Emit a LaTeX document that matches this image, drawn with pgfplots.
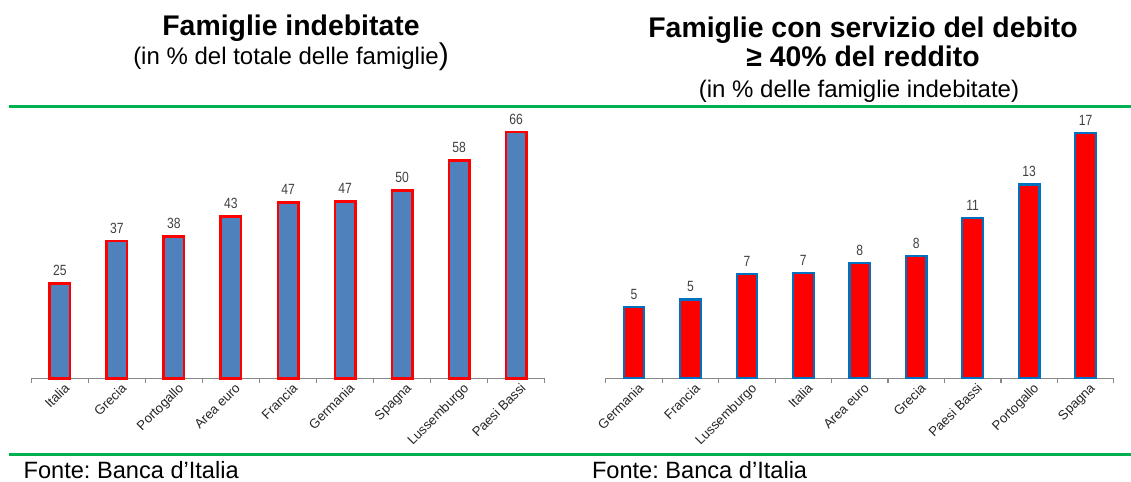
\documentclass[border=0pt]{standalone}
\usepackage{fontspec}
\setmainfont{Liberation Sans}
\newfontfamily\narrow[FakeStretch=0.82]{Liberation Sans}
\usepackage{pgfplots}
\pgfplotsset{compat=1.18}
\definecolor{barblue}{HTML}{4F81BD}
\definecolor{edgeblue}{HTML}{0070C0}
\definecolor{lgreen}{HTML}{00B050}
\definecolor{labgray}{HTML}{404040}
\definecolor{axgray}{HTML}{888888}
\frenchspacing

\pgfplotsset{
 panel/.style={
  scale only axis, height=130pt,
  anchor=south west,
  ybar,
  xmin=-0.5, xmax=8.5, ymin=0,
  axis x line*=bottom, axis y line=none,
  axis line style={draw=axgray, line width=0.6pt},
  xtick={0,...,8},
  major tick length=0pt,
  minor xtick={-0.5,0.5,...,8.5},
  minor tick length=2.5pt,
  minor x tick style={draw=axgray, line width=0.6pt},
  tick align=outside,
  ytick=\empty,
  x tick label style={rotate=45, anchor=north east, font=\fontsize{6.6}{7}\selectfont, inner sep=1pt, text=black!85, yshift=-1.5pt, xshift=1pt},
  clip=false,
  /pgf/number format/assume math mode=true,
  nodes near coords={\pgfmathprintnumber[fixed,precision=0]{\pgfplotspointmeta}},
  every node near coord/.append style={font=\narrow\fontsize{7.4}{8}\selectfont, text=labgray, anchor=south, inner sep=0pt, yshift=3.2pt},
 }
}

\begin{document}
\begin{tikzpicture}
\useasboundingbox (0,0) rectangle (565.5pt,241pt);

% left panel
\begin{axis}[panel, width=256.6pt, at={(15.7pt,51.85pt)}, ymax=69.67,
  xticklabels={Italia,Grecia,Portogallo,Area euro,Francia,Germania,Spagna,Lussemburgo,Paesi Bassi}]
\addplot[fill=barblue, draw=red, line width=1.3pt, bar width=10.2pt] coordinates {
 (0,25.46) (1,36.8) (2,37.94) (3,43.4) (4,47.16) (5,47.45) (6,50.27) (7,58.4) (8,66.0)};
\end{axis}

% right panel
\begin{axis}[panel, width=254pt, at={(302.9pt,51.85pt)}, ymax=17.93,
  xticklabels={Germania,Francia,Lussemburgo,Italia,Area euro,Grecia,Paesi Bassi,Portogallo,Spagna}]
\addplot[fill=red, draw=edgeblue, line width=1.1pt, bar width=10.3pt] coordinates {
 (0,4.93) (1,5.44) (2,7.17) (3,7.24) (4,7.93) (5,8.45) (6,11.07) (7,13.37) (8,16.9)};
\end{axis}

% titles
\node[anchor=base, inner sep=0pt] at (145.5pt,223pt) {\fontsize{14.2}{17}\selectfont\bfseries Famiglie indebitate};
\node[anchor=base, inner sep=0pt] at (145.5pt,208.5pt) {\fontsize{12}{14}\selectfont (in \% del totale delle famiglie{\fontsize{15}{15}\selectfont )}};

\node[anchor=base, inner sep=0pt] at (431.5pt,222.3pt) {\fontsize{14.2}{17}\selectfont\bfseries Famiglie con servizio del debito};
\node[anchor=base, inner sep=0pt] at (431.5pt,207.7pt) {\fontsize{14.2}{17}\selectfont\bfseries ≥ 40\% del reddito};
\node[anchor=base, inner sep=0pt] at (429.5pt,192pt) {\fontsize{12}{14}\selectfont (in \% delle famiglie indebitate)};

% green rules
\draw[lgreen, line width=1.5pt] (4.5pt,187.8pt) -- (565.5pt,187.8pt);
\draw[lgreen, line width=1.5pt] (4.5pt,13.5pt) -- (565.5pt,13.5pt);

% sources
\node[anchor=base west, inner sep=0pt] at (11.6pt,1.9pt) {\fontsize{11.8}{14}\selectfont Fonte: Banca d’Italia};
\node[anchor=base west, inner sep=0pt] at (295.8pt,1.9pt) {\fontsize{11.8}{14}\selectfont Fonte: Banca d’Italia};
\end{tikzpicture}
\end{document}
